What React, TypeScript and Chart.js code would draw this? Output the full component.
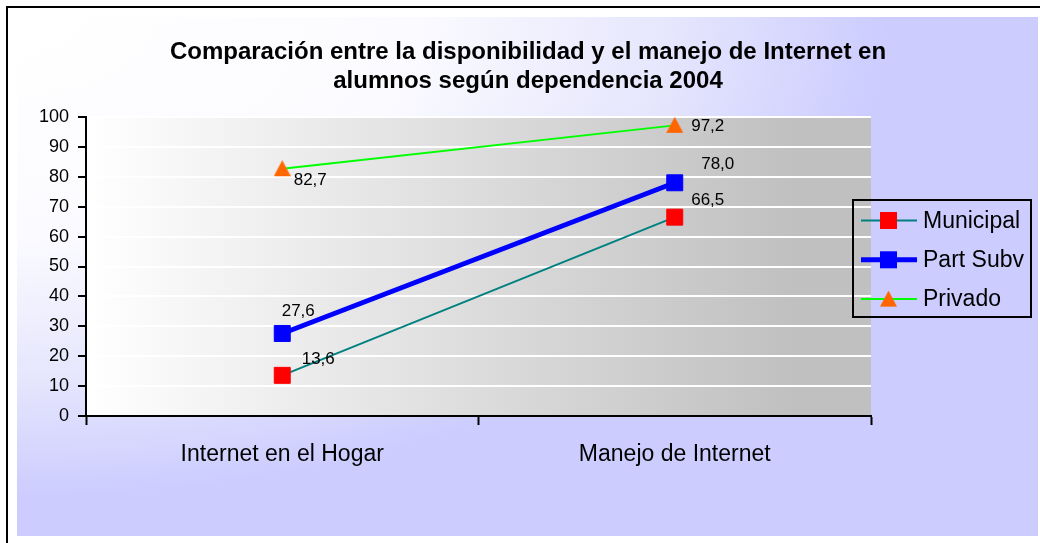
import React, { useEffect, useRef } from "react";
import { Chart, registerables } from "chart.js";

Chart.register(...registerables);

// ---------- data ----------
const categories = ["Internet en el Hogar", "Manejo de Internet"];
const seriesNames = ["Municipal", "Part Subv", "Privado"];
const municipal = [13.6, 66.5];
const partSubv = [27.6, 78.0];
const privado = [82.7, 97.2];
const titleLines = [
  "Comparación entre la disponibilidad y el manejo de Internet en",
  "alumnos según dependencia 2004",
];
const yMin = 0;
const yMax = 100;
const yStep = 10;

// ---------- styles ----------
const SANS = "'Liberation Sans', Arial, sans-serif";
const W = 1040;
const H = 543;

// value label offsets (px) relative to each point: [dataset][point]
const labelOffsets: number[][][] = [
  [[36, -16], [33, -17]],
  [[16, -22], [43, -18]],
  [[28, 12], [33, 1]],
];

function makeTriangle(color: string, size: number) {
  const c = document.createElement("canvas");
  c.width = size;
  c.height = size;
  const g = c.getContext("2d")!;
  g.fillStyle = color;
  g.beginPath();
  g.moveTo(size / 2, 0);
  g.lineTo(size, size - 1);
  g.lineTo(0, size - 1);
  g.closePath();
  g.fill();
  return c;
}

const backgroundPlugin = {
  id: "bgPaint",
  beforeDraw(chart: any) {
    const { ctx, width, height, chartArea: a } = chart;
    ctx.save();
    ctx.fillStyle = "#ffffff";
    ctx.fillRect(0, 0, width, height);
    // elliptical corner gradient: white at top-left, lavender elsewhere
    const rx = 870;
    const ry = 480;
    ctx.save();
    ctx.beginPath();
    ctx.rect(17, 17, width - 19, height - 24);
    ctx.clip();
    ctx.translate(17, 17);
    ctx.scale(1, ry / rx);
    const g = ctx.createRadialGradient(0, 0, 0, 0, 0, rx);
    g.addColorStop(0, "#ffffff");
    g.addColorStop(0.45, "#fbfbff");
    g.addColorStop(0.75, "#e6e6fd");
    g.addColorStop(1, "#ccccff");
    ctx.fillStyle = g;
    ctx.fillRect(0, 0, width, height * (rx / ry));
    ctx.restore();
    ctx.strokeStyle = "#000";
    ctx.lineWidth = 2;
    ctx.beginPath();
    ctx.moveTo(7, height);
    ctx.lineTo(7, 7);
    ctx.lineTo(width, 7);
    ctx.stroke();
    const pg = ctx.createLinearGradient(a.left, 0, a.right, 0);
    pg.addColorStop(0, "#ffffff");
    pg.addColorStop(0.9, "#c0c0c0");
    pg.addColorStop(1, "#c0c0c0");
    ctx.fillStyle = pg;
    ctx.fillRect(a.left, a.top, a.right - a.left, a.bottom - a.top);
    ctx.restore();
  },
};

const valueLabelPlugin = {
  id: "valueLabels",
  afterDatasetsDraw(chart: any) {
    const ctx = chart.ctx;
    ctx.save();
    ctx.font = `17px ${SANS}`;
    ctx.fillStyle = "#000";
    ctx.textAlign = "center";
    ctx.textBaseline = "middle";
    chart.data.datasets.forEach((ds: any, di: number) => {
      const meta = chart.getDatasetMeta(di);
      meta.data.forEach((pt: any, i: number) => {
        const v = ds.data[i] as number;
        const [dx, dy] = labelOffsets[di][i];
        ctx.fillText(v.toFixed(1).replace(".", ","), pt.x + dx, pt.y + dy);
      });
    });
    ctx.restore();
  },
};

const legendPlugin = {
  id: "boxLegend",
  afterDraw(chart: any) {
    const { ctx, chartArea: a } = chart;
    const left = a.right - 18;
    const top = a.top + 83;
    const bw = 178;
    const bh = 117;
    ctx.save();
    ctx.strokeStyle = "#000";
    ctx.lineWidth = 2;
    ctx.strokeRect(left, top, bw, bh);
    ctx.font = `23px ${SANS}`;
    ctx.textAlign = "left";
    ctx.textBaseline = "middle";
    chart.data.datasets.forEach((ds: any, i: number) => {
      const y = top + 20.5 + i * 39.3;
      ctx.strokeStyle = ds.borderColor;
      ctx.lineWidth = ds.borderWidth;
      ctx.beginPath();
      ctx.moveTo(left + 8, y);
      ctx.lineTo(left + 64, y);
      ctx.stroke();
      const mx = left + 35.5;
      if (ds.pointStyle === "rect") {
        ctx.fillStyle = ds.pointBackgroundColor;
        ctx.fillRect(mx - 8.5, y - 8.5, 17, 17);
      } else if (ds.pointStyle instanceof HTMLCanvasElement) {
        const img = ds.pointStyle;
        ctx.drawImage(img, mx - img.width / 2, y - img.height / 2);
      }
      ctx.fillStyle = "#000";
      ctx.fillText(ds.label, left + 70, y + 1);
    });
    ctx.restore();
  },
};

export default function App() {
  const ref = useRef<HTMLCanvasElement | null>(null);

  useEffect(() => {
    document.body.style.margin = "0";
    const canvas = ref.current!;
    const tri = makeTriangle("#ff6600", 17);
    const chart = new Chart(canvas, {
      type: "line",
      data: {
        labels: categories,
        datasets: [
          {
            label: seriesNames[0],
            data: municipal,
            borderColor: "#008080",
            borderWidth: 2,
            pointStyle: "rect",
            pointRadius: 11.3,
            pointBackgroundColor: "#ff0000",
            pointBorderColor: "#ff0000",
            pointBorderWidth: 1,
            clip: false,
          } as any,
          {
            label: seriesNames[1],
            data: partSubv,
            borderColor: "#0000ff",
            borderWidth: 5,
            pointStyle: "rect",
            pointRadius: 11.3,
            pointBackgroundColor: "#0000ff",
            pointBorderColor: "#0000ff",
            pointBorderWidth: 1,
            clip: false,
          } as any,
          {
            label: seriesNames[2],
            data: privado,
            borderColor: "#00ff00",
            borderWidth: 2,
            pointStyle: tri,
            pointRadius: 9,
            pointBackgroundColor: "#ff6600",
            pointBorderColor: "#ff6600",
            clip: false,
          } as any,
        ],
      },
      options: {
        responsive: false,
        maintainAspectRatio: false,
        animation: false,
        devicePixelRatio: 1,
        events: [],
        layout: { padding: { left: 16, right: 0, top: 0, bottom: 0 } },
        elements: { line: { tension: 0 } },
        plugins: {
          legend: { display: false },
          tooltip: { enabled: false },
          title: {
            display: true,
            text: titleLines,
            color: "#000",
            font: { family: SANS, size: 24, weight: "bold", lineHeight: 1.2 },
            padding: { top: 38, bottom: 21.4 },
          },
        },
        scales: {
          x: {
            type: "category",
            offset: true,
            grid: {
              display: true,
              offset: true,
              drawOnChartArea: false,
              drawTicks: true,
              tickLength: 9,
              tickWidth: 2,
              tickColor: "#000",
            },
            border: { display: true, color: "#000", width: 2 },
            ticks: {
              color: "#000",
              font: { family: SANS, size: 23 },
              padding: 16,
              maxRotation: 0,
              autoSkip: false,
            },
            afterFit: (s: any) => {
              s.height = 127;
            },
          },
          y: {
            type: "linear",
            position: "left",
            min: yMin,
            max: yMax,
            ticks: {
              stepSize: yStep,
              color: "#000",
              font: { family: SANS, size: 18 },
              padding: 9,
            },
            grid: {
              color: (c: any) => (c.tick && c.tick.value === 0 ? "rgba(0,0,0,0)" : "#ffffff"),
              lineWidth: 2,
              drawTicks: true,
              tickLength: 8,
              tickWidth: 2,
              tickColor: "#000",
            },
            border: { display: true, color: "#000", width: 2 },
            afterFit: (s: any) => {
              s.width = 70;
            },
          },
          yR: {
            type: "linear",
            axis: "y",
            position: "right",
            display: true,
            grid: { display: false },
            border: { display: false },
            ticks: { display: false },
            afterFit: (s: any) => {
              s.width = 169;
            },
          },
        },
      } as any,
      plugins: [backgroundPlugin, valueLabelPlugin, legendPlugin],
    });
    return () => chart.destroy();
  }, []);

  return (
    <div style={{ position: "absolute", left: 0, top: 0, width: W, height: H }}>
      <canvas ref={ref} width={W} height={H} style={{ display: "block" }} />
    </div>
  );
}
